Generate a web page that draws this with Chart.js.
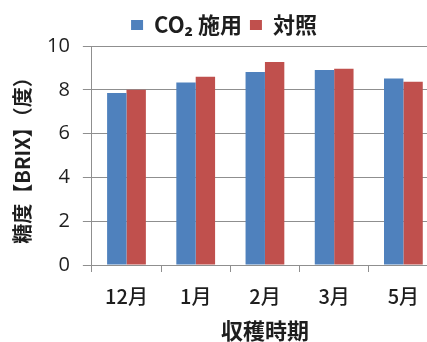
<!DOCTYPE html>
<html>
<head>
<meta charset="utf-8">
<script src="https://cdn.jsdelivr.net/npm/chart.js@4/dist/chart.umd.min.js"></script>
<style>
  html, body { margin: 0; padding: 0; overflow: hidden; background: #fff; }
  #wrap { width: 462px; height: 342px; }
</style>
</head>
<body>
<div id="wrap"><canvas id="c" width="462" height="342"></canvas></div>
<script>
// Harvest periods and sugar content (Brix) per treatment
const months = ['12月', '1月', '2月', '3月', '5月'];
const co2Values = [7.85, 8.33, 8.81, 8.90, 8.52];
const controlValues = [8.00, 8.60, 9.27, 8.96, 8.37];
const seriesNames = ['CO₂ 施用', '対照'];
const yAxisTitle = '糖度【BRIX】（度）';
const xAxisTitle = '収穫時期';

const CJK = '"Noto Sans CJK JP", "Noto Sans", sans-serif';
const gridGray = '#8f8f8f';
const textColor = '#1e1e1e';

new Chart(document.getElementById('c'), {
  type: 'bar',
  data: {
    labels: months,
    datasets: [
      { label: seriesNames[0], data: co2Values, backgroundColor: '#4f81bd', borderWidth: 0 },
      { label: seriesNames[1], data: controlValues, backgroundColor: '#c0504d', borderWidth: 0 }
    ]
  },
  options: {
    responsive: false,
    animation: false,
    devicePixelRatio: 1,
    layout: { padding: { left: 10, right: 24, top: 6, bottom: 0 } },
    datasets: { bar: { categoryPercentage: 0.56, barPercentage: 1.0 } },
    plugins: {
      tooltip: { enabled: false },
      legend: {
        position: 'top',
        align: 'center',
        labels: {
          boxWidth: 12,
          boxHeight: 10,
          padding: 8,
          color: textColor,
          font: { family: CJK, size: 22, weight: 'bold' }
        }
      }
    },
    scales: {
      x: {
        grid: {
          display: true,
          drawOnChartArea: false,
          drawTicks: true,
          tickLength: 7,
          color: gridGray,
          offset: true
        },
        border: { color: gridGray, width: 1 },
        ticks: { color: textColor, padding: 17, font: { family: CJK, size: 20, weight: 500, lineHeight: 0.7 } },
        title: {
          display: true,
          text: xAxisTitle,
          color: textColor,
          padding: { top: 0, bottom: 0 },
          font: { family: CJK, size: 22, weight: 'bold', lineHeight: 1 }
        }
      },
      y: {
        min: 0,
        max: 10,
        ticks: { stepSize: 2, color: textColor, padding: 13, font: { family: '"Open Sans", sans-serif', size: 20 } },
        grid: { color: gridGray, tickLength: 9, lineWidth: 1 },
        border: { color: gridGray, width: 1 },
        title: {
          display: true,
          text: yAxisTitle,
          color: textColor,
          padding: { top: 0, bottom: 0 },
          font: { family: CJK, size: 20, weight: 'bold' }
        }
      }
    }
  }
});
</script>
</body>
</html>
